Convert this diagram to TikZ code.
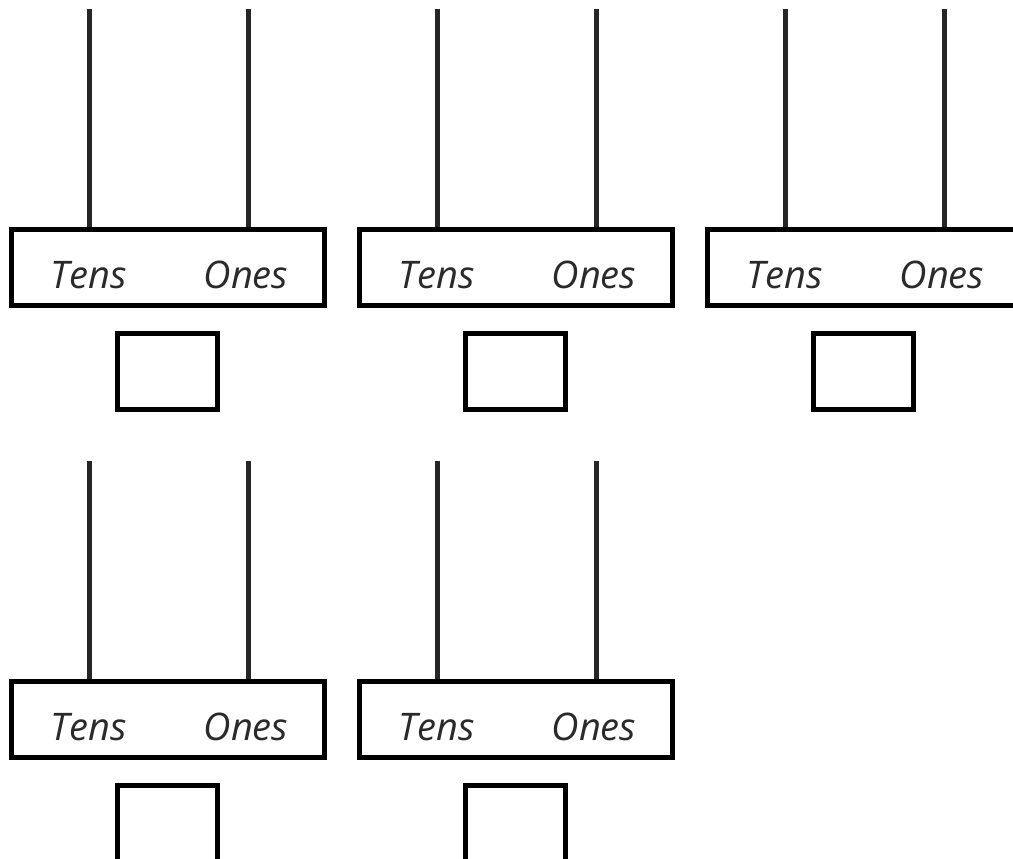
\documentclass[tikz,border=0pt]{standalone}
\usepackage{fontspec}
\setmainfont{Open Sans}
\definecolor{rod}{HTML}{262626}
\definecolor{txt}{HTML}{2A2A2A}
\tikzset{
  rodline/.style={draw=rod, line width=5pt},
  bigbox/.style={draw=black, line width=5pt, rectangle, minimum width=313pt, minimum height=76pt, inner sep=0pt},
  ansbox/.style={draw=black, line width=5pt, rectangle, minimum width=100pt, minimum height=76pt, inner sep=0pt},
  lbl/.style={text=txt, font=\fontsize{38}{40}\selectfont\itshape, anchor=base, inner sep=0pt}
}
\begin{document}
\begin{tikzpicture}[x=1pt,y=-1pt]
\useasboundingbox (0,0) rectangle (1013,859);
\clip (0,0) rectangle (1013,859);
\foreach \n/\dx/\dy in {1/0/0, 2/348/0, 3/696/0, 4/0/452, 5/348/452}{
  \begin{scope}[shift={(\dx,\dy)}]
    \node[bigbox] (b\n) at (168,267.5) {};
    \node[ansbox] (a\n) at (167.5,371.5) {};
    \node[lbl] (t\n) at (89,288) {Tens};
    \node[lbl] (o\n) at (246,288) {Ones};
    \coordinate (rt\n) at (89.5,9);
    \coordinate (ro\n) at (248.5,9);
    \draw[rodline] (rt\n) -- (rt\n |- b\n.north);
    \draw[rodline] (ro\n) -- (ro\n |- b\n.north);
  \end{scope}
}
\end{tikzpicture}
\end{document}
